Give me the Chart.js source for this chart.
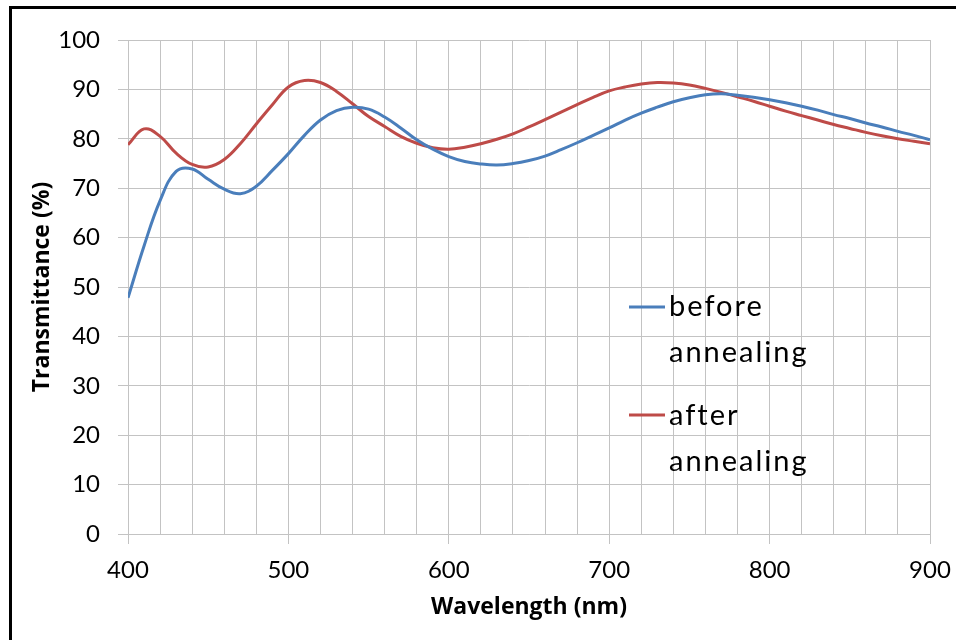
<!DOCTYPE html>
<html>
<head>
<meta charset="utf-8">
<script src="https://cdn.jsdelivr.net/npm/chart.js@4.4.1/dist/chart.umd.min.js"></script>
<style>
  html, body { margin: 0; padding: 0; background: #fff; overflow: hidden; }
  #wrap { position: relative; width: 956px; height: 640px; }
  #frame {
    position: absolute; left: 9px; top: 6px; width: 1000px; height: 700px;
    border: 3px solid #000; box-sizing: border-box;
  }
  canvas { position: absolute; left: 0; top: 0; }
</style>
</head>
<body>
<div id="wrap">
  <div id="frame"></div>
  <canvas id="transChart" width="956" height="640"></canvas>
</div>
<script>
// wavelength grid (nm)
var wavelengths = [
  400, 410, 420, 430, 440, 450, 460, 470, 480, 490,
  500, 510, 520, 530, 540, 550, 560, 570, 580, 590,
  600, 610, 620, 630, 640, 650, 660, 670, 680, 690,
  700, 710, 720, 730, 740, 750, 760, 770, 780, 790,
  800, 810, 820, 830, 840, 850, 860, 870, 880, 890, 900
];

// transmittance before annealing (%)
var beforeAnnealing = [
  47.8, 58.3, 67.5, 73.4, 73.9, 71.8, 69.8, 68.9, 70.4, 73.6,
  77.0, 80.7, 83.8, 85.7, 86.4, 86.0, 84.4, 82.2, 79.8, 77.9,
  76.4, 75.4, 74.9, 74.7, 75.0, 75.6, 76.5, 77.8, 79.2, 80.7,
  82.2, 83.8, 85.2, 86.4, 87.5, 88.3, 88.9, 89.1, 88.8, 88.4,
  87.9, 87.3, 86.6, 85.8, 84.9, 84.1, 83.2, 82.4, 81.5, 80.7, 79.8
];

// transmittance after annealing (%)
var afterAnnealing = [
  78.8, 82.0, 80.5, 77.1, 74.8, 74.3, 75.8, 79.0, 83.0, 86.9,
  90.5, 91.8, 91.4, 89.6, 87.1, 84.5, 82.5, 80.5, 79.1, 78.2,
  77.9, 78.3, 79.0, 79.9, 81.0, 82.4, 83.9, 85.4, 86.9, 88.4,
  89.7, 90.5, 91.1, 91.4, 91.3, 90.9, 90.2, 89.4, 88.5, 87.6,
  86.6, 85.6, 84.7, 83.8, 82.9, 82.1, 81.3, 80.6, 80.0, 79.5, 79.0
];

var seriesLabels = ["before annealing", "after annealing"];
var seriesColors = ["#4a7ebb", "#be4b48"];

var gridGray = "#c3c3c3";

function toPoints(values) {
  return wavelengths.map(function (w, i) {
    return { x: w, y: values[i] };
  });
}

// legend drawn inside the plot, label wrapped over two lines
var innerLegend = {
  id: "innerLegend",
  afterDatasetsDraw: function (chart) {
    var ctx = chart.ctx;
    var area = chart.chartArea;
    var x0 = area.left + 501;
    var rows = [
      { lineY: 307, baseY: 316 },
      { lineY: 415, baseY: 425 }
    ];
    ctx.save();
    ctx.font = "29px Lato";
    ctx.letterSpacing = "2px";
    ctx.fillStyle = "#000";
    ctx.textAlign = "left";
    ctx.textBaseline = "alphabetic";
    chart.data.datasets.forEach(function (ds, i) {
      var r = rows[i];
      ctx.strokeStyle = ds.borderColor;
      ctx.lineWidth = 3;
      ctx.beginPath();
      ctx.moveTo(x0, r.lineY);
      ctx.lineTo(x0 + 36, r.lineY);
      ctx.stroke();
      ds.label.split(" ").forEach(function (word, j) {
        ctx.fillText(word, x0 + 40, r.baseY + j * 46);
      });
    });
    ctx.restore();
  }
};

var ctx = document.getElementById("transChart").getContext("2d");

new Chart(ctx, {
  type: "line",
  data: {
    datasets: [
      {
        label: seriesLabels[0],
        data: toPoints(beforeAnnealing),
        borderColor: seriesColors[0],
        borderWidth: 3,
        pointRadius: 0,
        tension: 0.4,
        fill: false
      },
      {
        label: seriesLabels[1],
        data: toPoints(afterAnnealing),
        borderColor: seriesColors[1],
        borderWidth: 3,
        pointRadius: 0,
        tension: 0.4,
        fill: false
      }
    ]
  },
  plugins: [innerLegend],
  options: {
    responsive: false,
    animation: false,
    devicePixelRatio: 1,
    layout: { padding: { left: 0, top: 40, right: 26, bottom: 0 } },
    plugins: {
      legend: { display: false },
      tooltip: { enabled: false }
    },
    scales: {
      x: {
        type: "linear",
        min: 400,
        max: 900,
        afterFit: function (scale) {
          scale.height = 106;
          // keep the end labels from shrinking the plot
          scale.paddingLeft = 0;
          scale.paddingRight = 0;
        },
        ticks: {
          stepSize: 20,
          autoSkip: false,
          maxRotation: 0,
          padding: 12,
          color: "#000",
          font: { family: "Lato", size: 24 },
          callback: function (v) { return v % 100 === 0 ? String(v) : ""; }
        },
        grid: {
          color: gridGray,
          lineWidth: 1,
          tickLength: 10,
          tickColor: function (c) {
            return c.tick && c.tick.value % 100 === 0 ? gridGray : "rgba(0,0,0,0)";
          }
        },
        border: { color: gridGray },
        title: {
          display: true,
          text: "Wavelength (nm)",
          color: "#000",
          font: { family: "Open Sans", size: 23, weight: "bold" },
          padding: { top: 0, bottom: 19 }
        }
      },
      y: {
        min: 0,
        max: 100,
        afterFit: function (scale) {
          scale.width = 128;
          scale.paddingTop = 0;
          scale.paddingBottom = 0;
        },
        ticks: {
          stepSize: 10,
          padding: 18,
          color: "#000",
          font: { family: "Lato", size: 24 }
        },
        grid: {
          color: gridGray,
          lineWidth: 1,
          tickLength: 10,
          tickColor: gridGray
        },
        border: { color: gridGray },
        title: {
          display: true,
          text: "Transmittance (%)",
          color: "#000",
          font: { family: "Open Sans", size: 23, weight: "bold" },
          padding: { top: 29, bottom: 0 }
        }
      }
    }
  }
});
</script>
</body>
</html>
